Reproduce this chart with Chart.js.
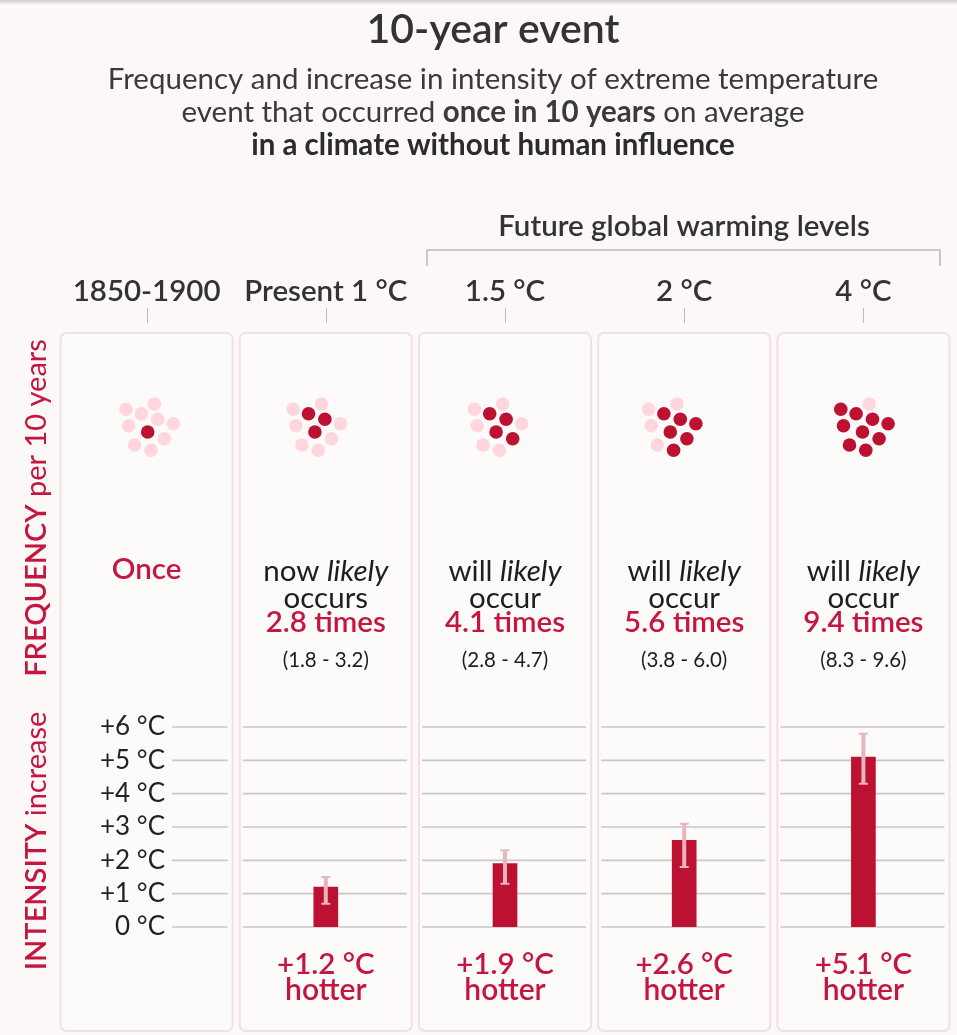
<!DOCTYPE html>
<html>
<head>
<meta charset="utf-8">
<script src="https://cdn.jsdelivr.net/npm/chart.js@4.4.0/dist/chart.umd.min.js"></script>
<style>
  html, body { margin: 0; padding: 0; background: #fcf8f7; }
  canvas { display: block; }
</style>
</head>
<body>
<canvas id="chart" width="957" height="1035"></canvas>
<script>
// data
const periods = ['1850-1900', 'Present 1 °C', '1.5 °C', '2 °C', '4 °C'];
const freqTimes = [1, 2.8, 4.1, 5.6, 9.4];
const freqLow = [null, 1.8, 2.8, 3.8, 8.3];
const freqHigh = [null, 3.2, 4.7, 6.0, 9.6];
const intensity = [null, 1.2, 1.9, 2.6, 5.1];
const intensityLow = [null, 0.7, 1.3, 1.8, 4.3];
const intensityHigh = [null, 1.5, 2.3, 3.1, 5.8];
const yTicks = [0, 1, 2, 3, 4, 5, 6];
const yTickLabels = ['0 °C', '+1 °C', '+2 °C', '+3 °C', '+4 °C', '+5 °C', '+6 °C'];

// look
const RED = '#c4163f';
const BAR = '#bd1131';
const PINK = '#ffd6de';
const FONT = 'Lato, "Open Sans", sans-serif';

// dot cluster: 10 slots (one per year of the decade), filled in this order
const dotSlots = [[-20.6,-17.7],[7.7,-23],[-5.3,-13.3],[-17.9,-1.3],[11.1,-7.7],
                  [26.7,-3.3],[1.1,5],[-11.9,18],[17.7,11.7],[4.4,23.3]];
const fillOrder = [6,2,4,8,5,9,0,3,7,1];
const clusterShift = [0,-12,-10,-15,-2];

function rich(ctx, segs, cx, y, color) {
  let w = 0;
  segs.forEach(s => { ctx.font = s.f; w += ctx.measureText(s.t).width; });
  let xx = cx - w / 2;
  ctx.textAlign = 'left';
  ctx.textBaseline = 'middle';
  ctx.fillStyle = color;
  segs.forEach(s => { ctx.font = s.f; ctx.fillText(s.t, xx, y); xx += ctx.measureText(s.t).width; });
}

function text(ctx, t, x, y, font, color, align) {
  ctx.font = font;
  ctx.fillStyle = color;
  ctx.textAlign = align || 'center';
  ctx.textBaseline = 'middle';
  ctx.fillText(t, x, y);
}

const decor = {
  id: 'decor',
  beforeDraw(chart) {
    const ctx = chart.ctx;
    const xs = chart.scales.x, ys = chart.scales.y;
    ctx.save();
    ctx.fillStyle = '#fcf8f7';
    ctx.fillRect(0, 0, chart.width, chart.height);
    let g = ctx.createLinearGradient(0, 0, 0, 5);
    g.addColorStop(0, 'rgba(0,0,0,0.18)');
    g.addColorStop(1, 'rgba(0,0,0,0)');
    ctx.fillStyle = g;
    ctx.fillRect(0, 0, chart.width, 5);

    // titles
    text(ctx, '10-year event', 493, 30, `600 41px ${FONT}`, '#333');
    rich(ctx, [{t: 'Frequency and increase in intensity of extreme temperature', f: `29.5px ${FONT}`}], 493, 79, '#3a3a3a');
    rich(ctx, [{t: 'event that occurred ', f: `29.5px ${FONT}`},
               {t: 'once in 10 years', f: `bold 29.5px ${FONT}`},
               {t: ' on average', f: `29.5px ${FONT}`}], 493, 112, '#3a3a3a');
    rich(ctx, [{t: 'in a climate without human influence', f: `bold 29.5px ${FONT}`}], 493, 145, '#2b2b2b');

    // future bracket
    text(ctx, 'Future global warming levels', 684, 226, `600 29.5px ${FONT}`, '#333');
    ctx.strokeStyle = '#b8b8b8';
    ctx.lineWidth = 1.5;
    ctx.beginPath();
    ctx.moveTo(427, 266); ctx.lineTo(427, 250); ctx.lineTo(940, 250); ctx.lineTo(940, 266);
    ctx.stroke();

    // left vertical labels
    ctx.save();
    ctx.translate(37, 508);
    ctx.rotate(-Math.PI / 2);
    rich(ctx, [{t: 'FREQUENCY ', f: `600 29px ${FONT}`}, {t: 'per 10 years', f: `29px ${FONT}`}], 0, 0, RED);
    ctx.restore();
    ctx.save();
    ctx.translate(37, 841);
    ctx.rotate(-Math.PI / 2);
    rich(ctx, [{t: 'INTENSITY ', f: `600 29px ${FONT}`}, {t: 'increase', f: `29px ${FONT}`}], 0, 0, RED);
    ctx.restore();

    periods.forEach((p, i) => {
      const cx = xs.getPixelForValue(i);
      // header + tick
      text(ctx, p, cx, 291, `600 29.5px ${FONT}`, '#333');
      ctx.strokeStyle = '#bbbbbb';
      ctx.lineWidth = 1;
      ctx.beginPath(); ctx.moveTo(Math.round(cx) + 0.5, 308); ctx.lineTo(Math.round(cx) + 0.5, 323); ctx.stroke();

      // panel
      ctx.beginPath();
      ctx.roundRect(cx - 86, 333, 172, 698, 6);
      ctx.fillStyle = '#fdfafa';
      ctx.fill();
      ctx.strokeStyle = '#f4dfe3';
      ctx.lineWidth = 2;
      ctx.stroke();

      // dots
      const n = Math.round(freqTimes[i]);
      const dark = new Set(fillOrder.slice(0, n));
      const ccx = cx + clusterShift[i];
      dotSlots.forEach((d, k) => {
        ctx.beginPath();
        ctx.arc(ccx + d[0], 427 + d[1], 6.8, 0, Math.PI * 2);
        ctx.fillStyle = dark.has(k) ? BAR : PINK;
        ctx.fill();
      });

      // frequency text
      if (i === 0) {
        text(ctx, 'Once', cx, 569, `600 29.5px ${FONT}`, RED);
      } else {
        rich(ctx, [{t: (i === 1 ? 'now ' : 'will '), f: `29.5px ${FONT}`},
                   {t: 'likely', f: `italic 29.5px ${FONT}`}], cx, 571, '#1e1e1e');
        text(ctx, i === 1 ? 'occurs' : 'occur', cx, 598, `29.5px ${FONT}`, '#1e1e1e');
        text(ctx, freqTimes[i].toFixed(1) + ' times', cx, 622, `600 29.5px ${FONT}`, RED);
        text(ctx, `(${freqLow[i].toFixed(1)} - ${freqHigh[i].toFixed(1)})`, cx, 660, `20.5px ${FONT}`, '#1e1e1e');
        text(ctx, `+${intensity[i].toFixed(1)} °C`, cx, 964, `600 29.5px ${FONT}`, RED);
        text(ctx, 'hotter', cx, 990, `600 30px ${FONT}`, RED);
      }

      // gridlines inside the panel
      const gx0 = i === 0 ? 172 : cx - 83;
      const gx1 = cx + 81;
      ctx.strokeStyle = '#cac6c6';
      ctx.lineWidth = 1.6;
      yTicks.forEach(v => {
        const yy = ys.getPixelForValue(v);
        ctx.beginPath(); ctx.moveTo(gx0, yy); ctx.lineTo(gx1, yy); ctx.stroke();
      });
    });

    // y tick labels
    yTicks.forEach((v, k) => {
      text(ctx, yTickLabels[k], 165, ys.getPixelForValue(v), `26px ${FONT}`, '#222', 'right');
    });
    ctx.restore();
  },
  afterDatasetsDraw(chart) {
    const ctx = chart.ctx;
    const xs = chart.scales.x, ys = chart.scales.y;
    ctx.save();
    ctx.strokeStyle = '#e8b4c0';
    intensity.forEach((v, i) => {
      if (v == null) return;
      const cx = xs.getPixelForValue(i);
      const t = ys.getPixelForValue(intensityHigh[i]);
      const b = ys.getPixelForValue(intensityLow[i]);
      ctx.lineWidth = 4;
      ctx.beginPath(); ctx.moveTo(cx, t); ctx.lineTo(cx, b); ctx.stroke();
      ctx.lineWidth = 2;
      ctx.beginPath();
      ctx.moveTo(cx - 4.5, t); ctx.lineTo(cx + 4.5, t);
      ctx.moveTo(cx - 4.5, b); ctx.lineTo(cx + 4.5, b);
      ctx.stroke();
    });
    ctx.restore();
  }
};

new Chart(document.getElementById('chart').getContext('2d'), {
  type: 'bar',
  data: {
    labels: periods,
    datasets: [{
      data: intensity,
      backgroundColor: BAR,
      barThickness: 24
    }]
  },
  options: {
    responsive: false,
    devicePixelRatio: 1,
    animation: false,
    layout: { padding: { left: 57, right: 4, top: 727, bottom: 108 } },
    plugins: { legend: { display: false }, tooltip: { enabled: false } },
    scales: {
      x: { display: false, offset: true, grid: { display: false } },
      y: { display: false, min: 0, max: 6, grid: { display: false } }
    }
  },
  plugins: [decor]
});
</script>
</body>
</html>
